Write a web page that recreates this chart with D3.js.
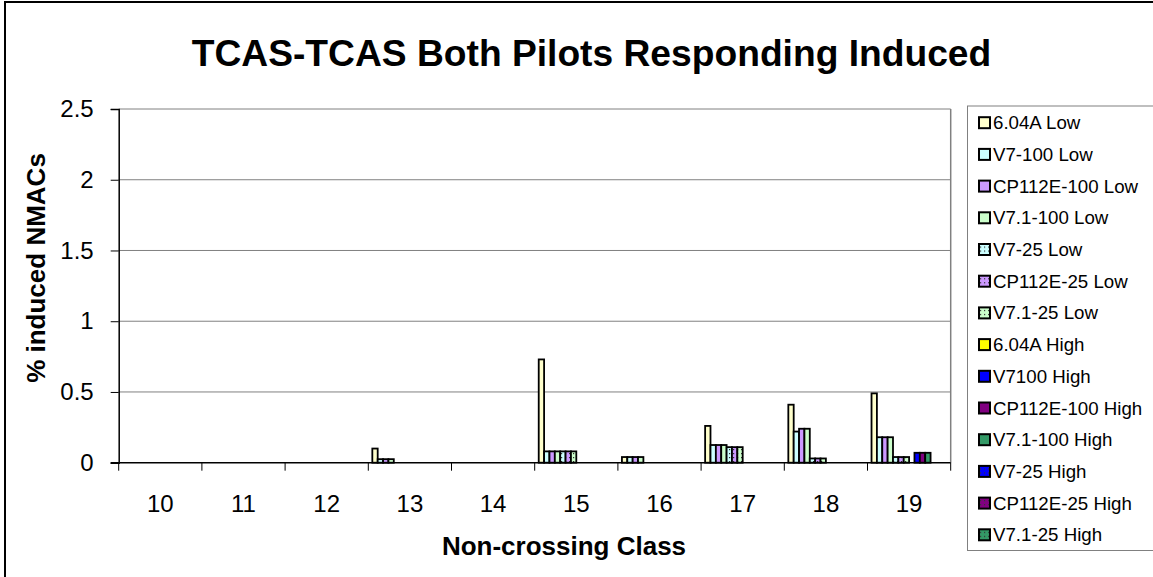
<!DOCTYPE html>
<html>
<head>
<meta charset="utf-8">
<script src="https://cdn.jsdelivr.net/npm/d3@7"></script>
<style>
  body { margin: 0; background: #fff; }
  text { font-family: Arial, 'Liberation Sans', sans-serif; }
</style>
</head>
<body>
<script>
const categories = ['10','11','12','13','14','15','16','17','18','19'];
const seriesNames = ['6.04A Low','V7-100 Low','CP112E-100 Low','V7.1-100 Low','V7-25 Low','CP112E-25 Low','V7.1-25 Low',
                     '6.04A High','V7100 High','CP112E-100 High','V7.1-100 High','V7-25 High','CP112E-25 High','V7.1-25 High'];
const seriesColors = ['#FFFFCC','#CCFFFF','#CC99FF','#CCFFCC','#CCFFFF','#CC99FF','#CCFFCC',
                      '#FFFF00','#0000FF','#800080','#339966','#0000FF','#800080','#339966'];
const seriesDotted = [false,false,false,false,true,true,true,false,false,false,false,true,true,true];
const seriesValues = [
  [0,0,0,0.10,0,0.73,0.04,0.26,0.41,0.49],
  [0,0,0,0.025,0,0.08,0.04,0.125,0.22,0.18],
  [0,0,0,0.025,0,0.08,0.04,0.125,0.24,0.18],
  [0,0,0,0.025,0,0.08,0.04,0.125,0.24,0.18],
  [0,0,0,0,0,0.08,0,0.11,0.03,0.04],
  [0,0,0,0,0,0.08,0,0.11,0.03,0.04],
  [0,0,0,0,0,0.08,0,0.11,0.03,0.04],
  [0,0,0,0,0,0,0,0,0,0],
  [0,0,0,0,0,0,0,0,0,0.07],
  [0,0,0,0,0,0,0,0,0,0.07],
  [0,0,0,0,0,0,0,0,0,0.07],
  [0,0,0,0,0,0,0,0,0,0],
  [0,0,0,0,0,0,0,0,0,0],
  [0,0,0,0,0,0,0,0,0,0]
];
const yTicks = [0,0.5,1,1.5,2,2.5];

const svg = d3.select('body').append('svg')
  .attr('width',1153).attr('height',577);

// dotted fills for the "-25" series
const defs = svg.append('defs');
seriesColors.forEach((c,i) => {
  if (!seriesDotted[i]) return;
  const p = defs.append('pattern').attr('id','dot'+i)
    .attr('patternUnits','userSpaceOnUse').attr('width',4).attr('height',4);
  p.append('rect').attr('width',4).attr('height',4).attr('fill',c);
  p.append('rect').attr('x',1).attr('y',1).attr('width',1.2).attr('height',1.2).attr('fill','#333');
});
const fillOf = i => seriesDotted[i] ? 'url(#dot'+i+')' : seriesColors[i];

// outer chart border
svg.append('rect').attr('x',5).attr('y',2).attr('width',1160).attr('height',590)
  .attr('fill','none').attr('stroke','#000').attr('stroke-width',2);

const pLeft = 118.7, pRight = 950.7, pTop = 109, pBottom = 462.7;

const x0 = d3.scaleBand().domain(categories).range([pLeft,pRight]).padding(0);
const x1 = d3.scaleBand().domain(seriesNames).range([0,x0.bandwidth()])
  .paddingInner(0).paddingOuter(0.75);
const y = d3.scaleLinear().domain([0,2.5]).range([pBottom,pTop]);

// gridlines
svg.append('g').selectAll('line').data(yTicks.filter(d => d > 0)).join('line')
  .attr('x1',pLeft).attr('x2',pRight)
  .attr('y1',d => y(d)).attr('y2',d => y(d))
  .attr('stroke','#808080').attr('stroke-width',1);
svg.append('line').attr('x1',pRight).attr('x2',pRight).attr('y1',pTop).attr('y2',pBottom)
  .attr('stroke','#808080').attr('stroke-width',1.5);

// bars
const groups = svg.append('g').selectAll('g').data(seriesNames).join('g')
  .attr('fill',(d,i) => fillOf(i));
groups.selectAll('rect')
  .data((d,i) => seriesValues[i].map((v,j) => ({s:d, c:categories[j], v:v})).filter(e => e.v > 0))
  .join('rect')
  .attr('x',d => x0(d.c) + x1(d.s))
  .attr('width',x1.bandwidth())
  .attr('y',d => y(d.v))
  .attr('height',d => pBottom - y(d.v))
  .attr('stroke','#000').attr('stroke-width',1.8);

// y axis
const yAxis = svg.append('g').attr('transform','translate('+pLeft+',0)')
  .call(d3.axisLeft(y).tickValues(yTicks).tickFormat(d3.format('')).tickSize(8).tickPadding(17));
yAxis.select('.domain').attr('stroke','#000').attr('stroke-width',1.5);
yAxis.selectAll('.tick line').attr('stroke','#000');
yAxis.selectAll('text').attr('font-size',24).attr('fill','#000')
  .attr('font-family',"Arial, 'Liberation Sans', sans-serif");

// x axis: ticks at category boundaries, labels in band centers
svg.append('line').attr('x1',pLeft - 8).attr('x2',pRight).attr('y1',pBottom).attr('y2',pBottom)
  .attr('stroke','#000').attr('stroke-width',1.5);
svg.append('g').selectAll('line').data(categories.concat(['end'])).join('line')
  .attr('x1',(d,i) => pLeft + i * x0.step()).attr('x2',(d,i) => pLeft + i * x0.step())
  .attr('y1',pBottom).attr('y2',pBottom + 8)
  .attr('stroke','#000').attr('stroke-width',1);
svg.append('g').selectAll('text').data(categories).join('text')
  .attr('x',d => x0(d) + x0.bandwidth()/2).attr('y',511.5)
  .attr('text-anchor','middle').attr('font-size',24).text(d => d);

// titles
svg.append('text').attr('x',591.5).attr('y',65.5).attr('text-anchor','middle')
  .attr('font-size',37.2).attr('font-weight','bold').text('TCAS-TCAS Both Pilots Responding Induced');
svg.append('text').attr('x',564).attr('y',555).attr('text-anchor','middle')
  .attr('font-size',26).attr('font-weight','bold').text('Non-crossing Class');
svg.append('text').attr('transform','translate(45,268) rotate(-90)').attr('text-anchor','middle')
  .attr('font-size',26).attr('font-weight','bold').text('% induced NMACs');

// legend
svg.append('rect').attr('x',967.5).attr('y',106).attr('width',190).attr('height',444.5)
  .attr('fill','#fff').attr('stroke','#808080').attr('stroke-width',1);
const legend = svg.append('g').selectAll('g').data(seriesNames).join('g')
  .attr('transform',(d,i) => 'translate(979,' + (122.7 + i * 31.7) + ')');
legend.append('rect').attr('x',0).attr('y',-5.5).attr('width',11).attr('height',11)
  .attr('fill',(d,i) => fillOf(i)).attr('stroke','#000').attr('stroke-width',2);
legend.append('text').attr('x',14).attr('y',6.5).attr('font-size',18.7).text(d => d);
</script>
</body>
</html>
